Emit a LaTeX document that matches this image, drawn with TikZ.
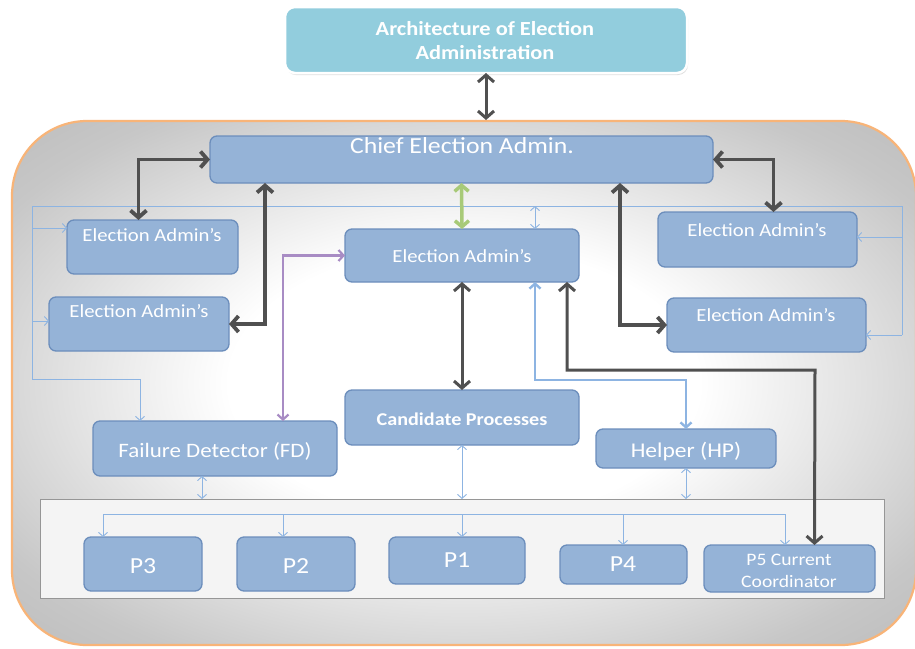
\documentclass[tikz,border=0pt]{standalone}
\usepackage{fontspec}
\setmainfont{Carlito}[FakeStretch=1.12]
\usetikzlibrary{arrows.meta,shadows}
\definecolor{boxfill}{RGB}{149,179,215}
\definecolor{boxline}{RGB}{108,142,188}
\definecolor{archfill}{RGB}{146,205,221}
\definecolor{darkarr}{RGB}{80,80,80}
\definecolor{greenarr}{RGB}{168,202,120}
\definecolor{purplearr}{RGB}{168,140,196}
\definecolor{bluearr}{RGB}{141,180,226}
\definecolor{thinblue}{RGB}{141,180,226}
\definecolor{orangeline}{RGB}{248,180,120}
\definecolor{panelfill}{RGB}{244,244,244}
\definecolor{panelline}{RGB}{150,150,150}
\pgfdeclareradialshading{contshade}{\pgfpoint{0bp}{0bp}}{color(0bp)=(white); color(13bp)=(white); color(30bp)=(black!22); color(42bp)=(black!30); color(50bp)=(black!32)}
\begin{document}
\begin{tikzpicture}[x=1pt,y=-1pt,
  box/.style={draw=boxline, line width=1.3pt, fill=boxfill, rounded corners=7pt, anchor=north west, inner sep=0pt, outer sep=0pt},
  lbl/.style={text=white, anchor=base, inner sep=0pt, align=center},
  thickarr/.style={draw=darkarr, line width=3.8pt, {Straight Barb[length=7pt,width=16pt]}-{Straight Barb[length=7pt,width=16pt]}},
  greenarrow/.style={draw=greenarr, line width=3.5pt, {Straight Barb[length=6pt,width=14pt]}-{Straight Barb[length=6pt,width=14pt]}},
  purplearrow/.style={draw=purplearr, line width=2.2pt, {Straight Barb[length=5pt,width=11pt]}-{Straight Barb[length=5pt,width=11pt]}},
  bluearrow/.style={draw=bluearr, line width=2.4pt, {Straight Barb[length=5pt,width=11pt]}-{Straight Barb[length=5pt,width=11pt]}},
  thinline/.style={draw=thinblue, line width=0.9pt},
  thinarr/.style={draw=thinblue, line width=0.9pt, -{Straight Barb[length=4pt,width=9pt]}},
  thindbl/.style={draw=thinblue, line width=0.9pt, {Straight Barb[length=4pt,width=9pt]}-{Straight Barb[length=4pt,width=9pt]}}
]
\useasboundingbox (0,0) rectangle (915,648);
\fill[white] (0,0) rectangle (915,648);

% container
\path[draw=orangeline, line width=2.2pt, rounded corners=75pt, shading=contshade] (12,121) rectangle (916,645);

% top box
\node[box, draw=white, line width=2.5pt, fill=archfill, rounded corners=10pt, minimum width=402pt, minimum height=66pt, drop shadow={opacity=0.25, shadow xshift=1pt, shadow yshift=-2pt}] (A) at (285,7) {};
\node[lbl, font=\bfseries\fontsize{20}{24}\selectfont] (At1) at (485,35) {Architecture of Election};
\node[lbl, font=\bfseries\fontsize{20}{24}\selectfont] (At2) at (485,59) {Administration};

% lower panel
\node[draw=panelline, fill=panelfill, line width=1pt, anchor=north west, minimum width=844pt, minimum height=99pt, inner sep=0pt, outer sep=0pt] (PN) at (40,499) {};

% boxes
\node[box, minimum width=503pt, minimum height=47pt] (C) at (210,136) {};
\node[lbl, font=\fontsize{23}{27}\selectfont] (Ct) at (462,153) {Chief Election Admin.};

\node[box, minimum width=171pt, minimum height=54pt] (L1) at (67,220) {};
\node[lbl, font=\fontsize{18.5}{22}\selectfont] (L1t) at (152,241) {Election Admin’s};

\node[box, minimum width=180pt, minimum height=54pt] (L2) at (49,297) {};
\node[lbl, font=\fontsize{18.5}{22}\selectfont] (L2t) at (139,317) {Election Admin’s};

\node[box, minimum width=234pt, minimum height=53pt] (E) at (345,229) {};
\node[lbl, font=\fontsize{18.5}{22}\selectfont] (Et) at (462,262) {Election Admin’s};

\node[box, minimum width=199pt, minimum height=55pt] (R1) at (658,212) {};
\node[lbl, font=\fontsize{18.5}{22}\selectfont] (R1t) at (757,236) {Election Admin’s};

\node[box, minimum width=199pt, minimum height=54pt] (R2) at (667,298) {};
\node[lbl, font=\fontsize{18.5}{22}\selectfont] (R2t) at (766,321) {Election Admin’s};

\node[box, minimum width=234pt, minimum height=55pt] (CP) at (345,390) {};
\node[lbl, font=\bfseries\fontsize{18}{22}\selectfont] (CPt) at (462,425) {Candidate Processes};

\node[box, minimum width=244pt, minimum height=55pt] (FD) at (93,421) {};
\node[lbl, font=\fontsize{20.5}{24}\selectfont] (FDt) at (215,457) {Failure Detector (FD)};

\node[box, minimum width=180pt, minimum height=39pt] (HP) at (596,429) {};
\node[lbl, font=\fontsize{21}{24}\selectfont] (HPt) at (686,457) {Helper (HP)};

\node[box, minimum width=118pt, minimum height=54pt] (P3) at (84,537) {};
\node[lbl, font=\fontsize{23}{26}\selectfont] (P3t) at (143,573) {P3};

\node[box, minimum width=118pt, minimum height=54pt] (P2) at (237,537) {};
\node[lbl, font=\fontsize{23}{26}\selectfont] (P2t) at (296,573) {P2};

\node[box, minimum width=136pt, minimum height=47pt] (P1) at (389,537) {};
\node[lbl, font=\fontsize{23}{26}\selectfont] (P1t) at (457,567) {P1};

\node[box, minimum width=127pt, minimum height=39pt] (P4) at (560,545) {};
\node[lbl, font=\fontsize{23}{26}\selectfont] (P4t) at (623,571) {P4};

\node[box, minimum width=171pt, minimum height=47pt] (P5) at (704,545) {};
\node[lbl, font=\fontsize{17.5}{21}\selectfont] (P5t1) at (789,565) {P5 Current};
\node[lbl, font=\fontsize{17.5}{21}\selectfont] (P5t2) at (789,587) {Coordinator};

% top arrow
\draw[thickarr, line width=3pt] (A.south) -- (A.south |- 0,120);

% thin frame
\coordinate (f1) at (32,206);
\coordinate (f2) at (902,206);
\coordinate (f3) at (32,379);
\coordinate (f4) at (902,335);
\draw[thinline] (f3) -- (f1) -- (f2) -- (f4);
\coordinate (b1) at (32,228);
\coordinate (b2) at (32,321);
\coordinate (b3) at (902,237);
\coordinate (b4) at (902,335);
\draw[thinarr] (b1) -- (b1 -| L1.west);
\draw[thinarr] (b2) -- (b2 -| L2.west);
\draw[thinarr] (b3) -- (b3 -| R1.east);
\draw[thinarr] (b4) -- (b4 -| R2.east);
\draw[thinarr] (f3) -| ([xshift=-75pt]FD.north);
\coordinate (b5) at (535,206);
\draw[thindbl] (b5) -- (b5 |- E.north);

% thick arrows
\draw[thickarr] (C.west) -| ([xshift=-14pt]L1.north);
\draw[thickarr] ([xshift=55pt]C.south west) |- (L2.east);
\draw[thickarr] (C.east) -| ([xshift=16pt]R1.north);
\draw[thickarr] ([xshift=-93pt]C.south east) |- (R2.west);
\draw[thickarr, line width=3pt] (E.south) -- (CP.north);
\coordinate (k6) at (815,370);
\draw[thickarr, line width=3pt] ([xshift=-12pt]E.south east) |- (k6) -- ([xshift=25pt]P5.north);

% coloured arrows
\draw[greenarrow] (C.south) -- (E.north);
\draw[purplearrow] (E.west) -| ([xshift=68pt]FD.north);
\coordinate (k7) at (686,380);
\draw[bluearrow] ([xshift=-44pt]E.south east) |- (k7) -- (HP.north);

% links to the panel
\coordinate (d1) at ([xshift=-13pt]FD.south);
\draw[thindbl] (d1) -- (d1 |- PN.north);
\draw[thindbl] (CP.south) -- (CP.south |- PN.north);
\draw[thindbl] (HP.south) -- (HP.south |- PN.north);

% distribution inside the panel
\coordinate (g1) at (103,514);
\coordinate (g2) at (283,514);
\coordinate (g3) at (462,514);
\coordinate (g4) at (623,514);
\coordinate (g5) at (785,514);
\draw[thinline] (g1) -- (g5);
\draw[thinarr] (g1) -- (g1 |- P3.north);
\draw[thinarr] (g2) -- (g2 |- P2.north);
\draw[thinarr] (g3) -- (g3 |- P1.north);
\draw[thinarr] (g4) -- (g4 |- P4.north);
\draw[thinarr] (g5) -- (g5 |- P5.north);
\end{tikzpicture}
\end{document}
